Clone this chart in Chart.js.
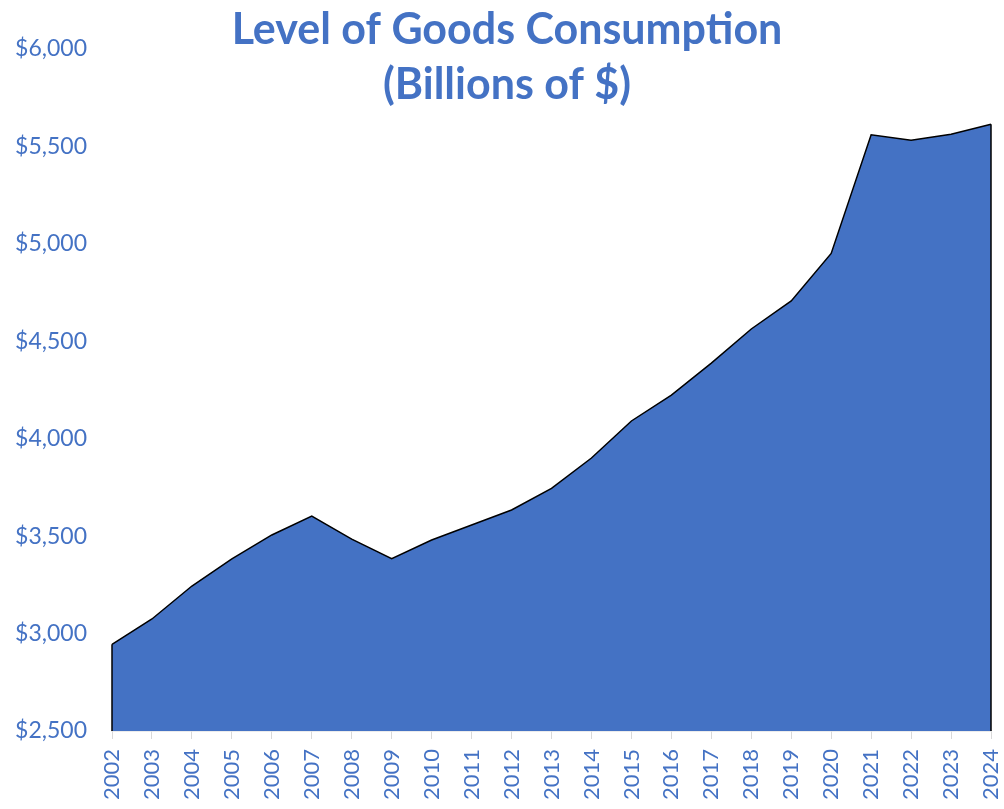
<!DOCTYPE html>
<html>
<head>
<meta charset="utf-8">
<script src="https://cdn.jsdelivr.net/npm/chart.js@4"></script>
<style>
  body { margin: 0; background: #fff; }
  #wrap { width: 1004px; height: 809px; }
</style>
</head>
<body>
<div id="wrap"><canvas id="goodsChart" width="1004" height="809"></canvas></div>
<script>
// chart data
var years = ['2002','2003','2004','2005','2006','2007','2008','2009','2010','2011','2012',
             '2013','2014','2015','2016','2017','2018','2019','2020','2021','2022','2023','2024'];
var goods = [2945, 3075, 3244, 3383, 3506, 3603, 3485, 3384, 3480, 3557, 3634,
             3745, 3901, 4091, 4224, 4388, 4563, 4707, 4951, 5560, 5532, 5563, 5614];
var titleLines = ['Level of Goods Consumption', '(Billions of $)'];
var yMin = 2500;
var yMax = 6000;
var yStep = 500;

var blue = '#4472C4';

/**
 * Title drawn over the plot, like the excel overlay title
 */
var overlayTitle = {
    id: 'overlayTitle',
    afterDraw: function (chart) {
        var ctx = chart.ctx;
        ctx.save();
        ctx.fillStyle = blue;
        ctx.font = 'bold 43px Lato';
        ctx.textAlign = 'center';
        ctx.textBaseline = 'middle';
        ctx.fillText(titleLines[0], chart.width / 2 + 5, 30);
        ctx.fillText(titleLines[1], chart.width / 2 + 5, 85);
        ctx.restore();
    }
};

/**
 * Close the area outline at both ends (vertical edges)
 */
var areaEdges = {
    id: 'areaEdges',
    afterDatasetsDraw: function (chart) {
        var meta = chart.getDatasetMeta(0);
        var bottom = chart.scales.y.getPixelForValue(yMin);
        var ctx = chart.ctx;
        var ends = [meta.data[0], meta.data[meta.data.length - 1]];
        ctx.save();
        ctx.strokeStyle = '#000';
        ctx.lineWidth = 1.5;
        for (var i = 0; i < ends.length; i++) {
            ctx.beginPath();
            ctx.moveTo(ends[i].x, ends[i].y);
            ctx.lineTo(ends[i].x, bottom);
            ctx.stroke();
        }
        ctx.restore();
    }
};

var ctx = document.getElementById('goodsChart').getContext('2d');
var goodsChart = new Chart(ctx, {
    type: 'line',
    data: {
        labels: years,
        datasets: [{
            data: goods,
            fill: 'start',
            backgroundColor: blue,
            borderColor: '#000',
            borderWidth: 1.5,
            tension: 0,
            pointRadius: 0
        }]
    },
    options: {
        responsive: false,
        animation: false,
        layout: { padding: { top: 49, right: 13, left: 0, bottom: 0 } },
        plugins: {
            legend: { display: false },
            title: { display: false },
            tooltip: { enabled: false }
        },
        scales: {
            x: {
                offset: false,
                z: 1,
                grid: { display: true, drawOnChartArea: false, drawTicks: true, tickLength: 8, color: '#D9D9D9' },
                border: { display: true, color: '#D9D9D9', width: 1.5 },
                ticks: {
                    color: blue,
                    font: { family: 'Lato', size: 22 },
                    minRotation: 90,
                    maxRotation: 90,
                    autoSkip: false,
                    padding: 10
                },
                afterFit: function (scale) {
                    scale.height = 78;
                    scale.paddingLeft = 0;
                    scale.paddingRight = 0;
                }
            },
            y: {
                min: yMin,
                max: yMax,
                grid: { display: false, drawTicks: false },
                border: { display: false },
                ticks: {
                    stepSize: yStep,
                    color: blue,
                    font: { family: 'Lato', size: 23 },
                    padding: 25,
                    callback: function (v) { return '$' + v.toLocaleString('en-US'); }
                },
                afterFit: function (scale) {
                    scale.width = 112;
                    scale.paddingTop = 0;
                    scale.paddingBottom = 0;
                }
            }
        }
    },
    plugins: [overlayTitle, areaEdges]
});
</script>
</body>
</html>
